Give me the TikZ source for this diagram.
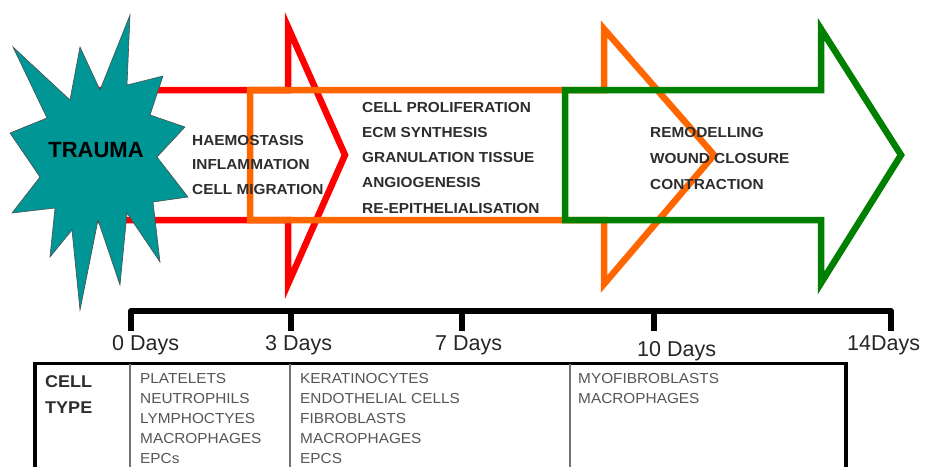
\documentclass[tikz,border=0pt]{standalone}
\usepackage{fontspec}
\setmainfont{Liberation Sans}
\newfontfamily\widefont[FakeStretch=1.06]{Liberation Sans}
\definecolor{myred}{RGB}{255,0,0}
\definecolor{myorange}{RGB}{255,102,0}
\definecolor{mygreen}{RGB}{0,128,0}
\definecolor{myteal}{RGB}{0,150,150}
\definecolor{txtdark}{RGB}{45,45,45}
\definecolor{txtgray}{RGB}{85,85,85}
\tikzset{
  phase/.style={line width=6.5pt, line join=miter, miter limit=20},
  stagetxt/.style={anchor=base west, inner sep=0pt, text=txtdark, font=\widefont\bfseries\fontsize{14.5}{17}\selectfont},
  daytxt/.style={anchor=base west, inner sep=0pt, text=black!85, font=\fontsize{21.5}{24}\selectfont},
  celltxt/.style={anchor=base west, inner sep=0pt, text=txtgray, font=\widefont\fontsize{14.5}{17}\selectfont},
  headtxt/.style={anchor=base west, inner sep=0pt, text=txtdark, font=\widefont\bfseries\fontsize{17}{20}\selectfont},
  timeline/.style={line width=6pt, line join=round},
  tabline/.style={line width=3.5pt},
  colline/.style={line width=1.4pt, draw=black!55}
}
\begin{document}
\begin{tikzpicture}[x=1pt,y=-1pt]
\clip (0,0) rectangle (925,466);
\fill[white] (0,0) rectangle (925,466);

% phase arrows
\draw[phase, myred] (95,90) -- (288,90) -- (288,27) -- (345,155) -- (288,284) -- (288,220) -- (95,220);
\draw[phase, myorange] (250,90) -- (604,90) -- (604,29) -- (714,155) -- (604,284) -- (604,220) -- (250,220) -- cycle;
\draw[phase, mygreen] (565,90) -- (821,90) -- (821,29) -- (901,155) -- (821,283) -- (821,220) -- (565,220) -- cycle;

% trauma star
\filldraw[fill=myteal, draw=black!70, line width=0.6pt, line join=miter]
  (130,15) -- (127,85) -- (163,76) -- (150,115) -- (185,127) -- (157,157)
  -- (188,197) -- (153,202) -- (160,262) -- (127,213) -- (120,285) -- (98,220)
  -- (80,310) -- (72,230) -- (50,257) -- (55,208) -- (12,213) -- (40,177)
  -- (10,133) -- (47,118) -- (13,47) -- (70,100) -- (80,47) -- (100,90) -- cycle;
\node[anchor=base, inner sep=0pt, font=\bfseries\fontsize{22}{24}\selectfont, text=black] (trauma) at (96,157) {TRAUMA};

% stage texts
\node[stagetxt] (h1) at (192,145) {HAEMOSTASIS};
\node[stagetxt] (h2) at (192,169.5) {INFLAMMATION};
\node[stagetxt] (h3) at (192,194) {CELL MIGRATION};

\node[stagetxt] (p1) at (362,112) {CELL PROLIFERATION};
\node[stagetxt] (p2) at (362,137) {ECM SYNTHESIS};
\node[stagetxt] (p3) at (362,162) {GRANULATION TISSUE};
\node[stagetxt] (p4) at (362,187) {ANGIOGENESIS};
\node[stagetxt] (p5) at (362,213) {RE-EPITHELIALISATION};

\node[stagetxt] (r1) at (650,137.5) {REMODELLING};
\node[stagetxt] (r2) at (650,163) {WOUND CLOSURE};
\node[stagetxt] (r3) at (650,189) {CONTRACTION};

% timeline
\draw[timeline] (131,331) -- (131,311) -- (891,311) -- (891,331);
\draw[timeline, line cap=butt] (291,311) -- (291,331);
\draw[timeline, line cap=butt] (462,311) -- (462,331);
\draw[timeline, line cap=butt] (654,311) -- (654,331);

\node[daytxt] (d0) at (112,350) {0 Days};
\node[daytxt] (d3) at (265,350) {3 Days};
\node[daytxt] (d7) at (435,350) {7 Days};
\node[daytxt] (d10) at (637,356) {10 Days};
\node[daytxt] (d14) at (847,350) {14Days};

% table
\draw[tabline] (35,480) -- (35,363.5) -- (846,363.5) -- (846,480);
\draw[colline] (130,364) -- (130,480);
\draw[colline] (290,364) -- (290,480);
\draw[colline] (570,364) -- (570,480);

\node[headtxt] (c1) at (45,387) {CELL};
\node[headtxt] (c2) at (45,413) {TYPE};

\node[celltxt] (a1) at (140,383) {PLATELETS};
\node[celltxt] (a2) at (140,403) {NEUTROPHILS};
\node[celltxt] (a3) at (140,423) {LYMPHOCTYES};
\node[celltxt] (a4) at (140,443) {MACROPHAGES};
\node[celltxt] (a5) at (140,463) {EPCs};

\node[celltxt] (b1) at (300,383) {KERATINOCYTES};
\node[celltxt] (b2) at (300,403) {ENDOTHELIAL CELLS};
\node[celltxt] (b3) at (300,423) {FIBROBLASTS};
\node[celltxt] (b4) at (300,443) {MACROPHAGES};
\node[celltxt] (b5) at (300,463) {EPCS};

\node[celltxt] (m1) at (578,383) {MYOFIBROBLASTS};
\node[celltxt] (m2) at (578,403) {MACROPHAGES};
\end{tikzpicture}
\end{document}
